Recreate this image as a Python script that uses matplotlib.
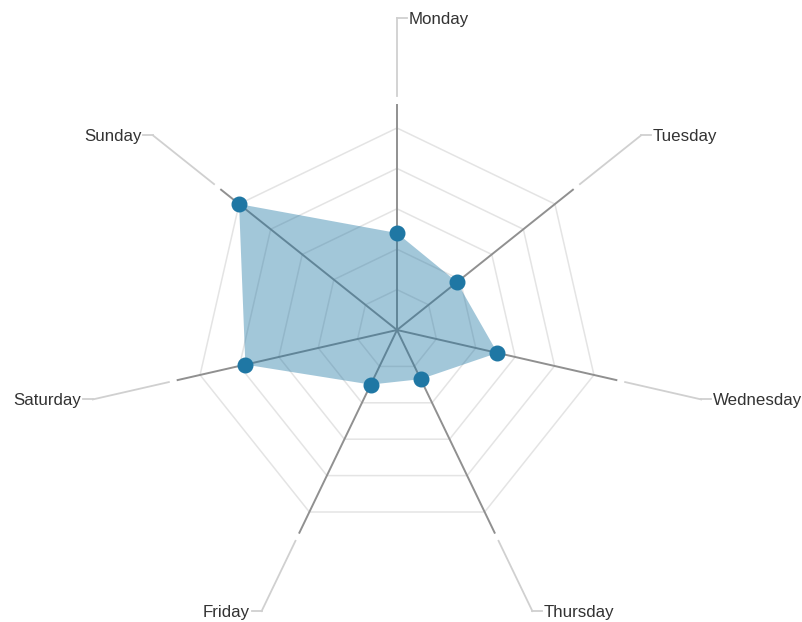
import numpy as np
import matplotlib.pyplot as plt

days = ["Monday", "Tuesday", "Wednesday", "Thursday", "Friday", "Saturday", "Sunday"]
values = [48, 38, 51, 27, 30, 77, 100]
grid_levels = [20, 40, 60, 80, 100]

# layout (in value units; 100 -> 202 px)
PX = 2.02
AXIS_END = 225 / PX
LEADER_START = 234 / PX
LEADER_END = 312 / PX
STUB = 10 / PX

plt.rcParams["font.family"] = ["Liberation Sans", "DejaVu Sans"]

fig = plt.figure(figsize=(8.03, 6.22), dpi=100)
ax = fig.add_axes([0, 0, 1, 1])
ax.set_xlim(-397 / PX, 406 / PX)
ax.set_ylim(-292 / PX, 330 / PX)
ax.set_aspect("equal")
ax.axis("off")

n = len(days)
theta = np.arange(n) * 2 * np.pi / n
ux, uy = np.sin(theta), np.cos(theta)

# grid polygons
for lv in grid_levels:
    ax.plot(np.append(ux, ux[0]) * lv, np.append(uy, uy[0]) * lv,
            color="#e4e4e4", lw=1.1, zorder=1)

# axes + leader lines + labels
for i, d in enumerate(days):
    ax.plot([0, ux[i] * AXIS_END], [0, uy[i] * AXIS_END], color="#909090", lw=1.4, zorder=2)
    ex, ey = ux[i] * LEADER_END, uy[i] * LEADER_END
    ax.plot([ux[i] * LEADER_START, ex], [uy[i] * LEADER_START, ey], color="#d0d0d0", lw=1.3, zorder=2)
    side = 1 if ux[i] >= -1e-9 else -1
    ax.plot([ex, ex + side * STUB], [ey, ey], color="#d0d0d0", lw=1.3, zorder=2)
    ax.text(ex + side * (STUB + 1.5 / PX), ey - 1.5 / PX, d, ha="left" if side > 0 else "right",
            va="center", fontsize=12.2, color="#333333", zorder=3)

# data polygon
v = np.array(values, dtype=float)
px, py = ux * v, uy * v
ax.fill(px, py, color="#1f77a4", alpha=0.41, lw=0, zorder=4)
ax.plot(px, py, "o", color="#1f77a4", markersize=10.5, zorder=5)

fig.savefig("out.png", dpi=100)
